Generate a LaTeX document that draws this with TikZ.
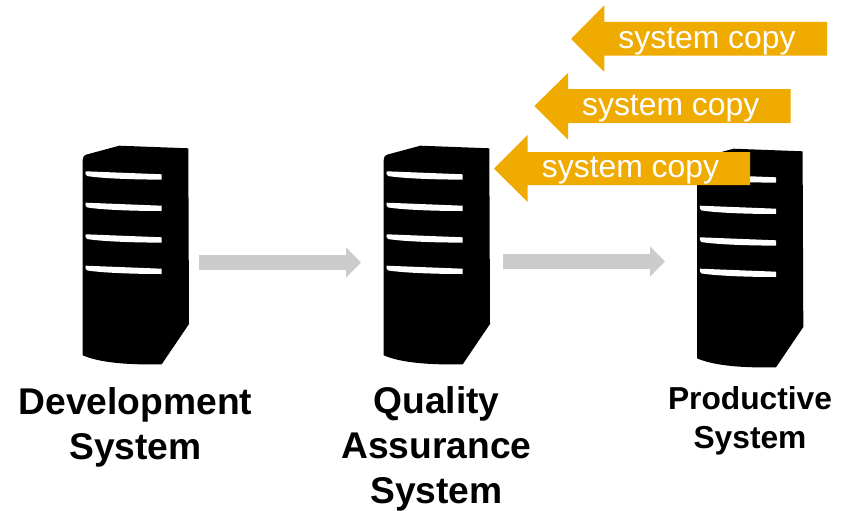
\documentclass[tikz,border=0pt]{standalone}
\usepackage{fontspec}
\setmainfont{Liberation Sans}
\usetikzlibrary{arrows.meta}
\definecolor{sap}{HTML}{F0AB00}
\definecolor{flow}{HTML}{CCCCCC}
\tikzset{
  x=0.75pt,y=-0.75pt,
  bigtext/.style={font=\fontsize{27.9}{33.7}\selectfont\bfseries,align=center,text=black,inner sep=0pt},
  smalltext/.style={font=\fontsize{23.8}{29.5}\selectfont\bfseries,align=center,text=black,inner sep=0pt},
  copytext/.style={font=\fontsize{23.9}{29}\selectfont,text=white,inner sep=0pt},
  flowline/.style={draw=flow,line width=11.25pt,-{Triangle[length=11.25pt,width=22.2pt]}},
  copyarrow/.style={fill=sap,draw=none},
  pics/server/.style={code={
    \fill[black] (82.7,160) .. controls (82.7,157) and (84,155.2) .. (86,154.7) -- (119.3,145.7) -- (188.3,148.3)
      -- (189,324) -- (161.7,364.3) .. controls (130,365) and (100,363) .. (82.7,355.3) -- cycle;
    \foreach \dy in {0,31.4,63,94.4}{
      \fill[white,yshift=-0.75*\dy pt] (85.7,171.3) -- (161.7,174.3) -- (161.7,179.6)
        .. controls (130,179.6) and (100,178.2) .. (87,176)
        .. controls (85.3,175) and (85,172.3) .. (85.7,171.3) -- cycle;
    }
  }}
}
\begin{document}
\begin{tikzpicture}
\useasboundingbox (0,0) rectangle (848,510);
% servers
\pic at (0,0) {server};
\pic at (301,0) {server};
\pic at (614.3,3) {server};
% flow arrows
\coordinate (devout) at (199,262.5);
\coordinate (qain) at (361,262.5);
\coordinate (qaout) at (503,261.5);
\coordinate (prodin) at (665,261.5);
\draw[flowline] (devout) -- (qain);
\draw[flowline] (qaout) -- (prodin);
% system copy arrows
\fill[copyarrow] (571,39) -- (604.3,5.3) -- (604.3,22) -- (827,22) -- (827,55.7) -- (604.3,55.7) -- (604.3,72) -- cycle;
\node[copytext] (copyone) at (707,41.5) {system copy};
\fill[copyarrow] (534.3,106) -- (568,73) -- (568,89) -- (790.7,89) -- (790.7,123) -- (568,123) -- (568,139.7) -- cycle;
\node[copytext] (copytwo) at (670.7,108.5) {system copy};
\fill[copyarrow] (494,168.7) -- (527.7,135) -- (527.7,152) -- (750,152) -- (750,185) -- (527.7,185) -- (527.7,202) -- cycle;
\node[copytext] (copythree) at (630.5,171) {system copy};
% labels
\node[bigtext] (dev) at (135.5,427.5) {Development\\System};
\node[bigtext] (qa) at (436.5,449) {Quality\\Assurance\\System};
\node[smalltext] (prod) at (750,421) {Productive\\System};
\end{tikzpicture}
\end{document}
